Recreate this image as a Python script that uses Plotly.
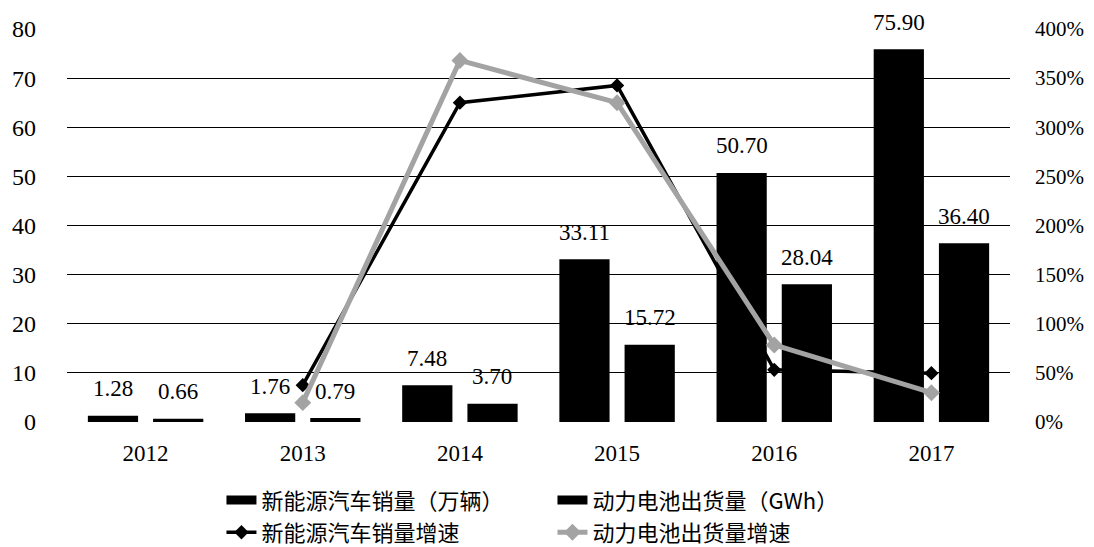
import plotly.graph_objects as go

# Years on the category axis
years = ["2012", "2013", "2014", "2015", "2016", "2017"]

# Annual values (bars, left axis)
nev_sales = [1.28, 1.76, 7.48, 33.11, 50.70, 75.90]        # 新能源汽车销量（万辆）
battery_ship = [0.66, 0.79, 3.70, 15.72, 28.04, 36.40]     # 动力电池出货量（GWh）

# Year-on-year growth (lines, right axis, as fractions)
nev_growth = [None, 0.375, 3.25, 3.426, 0.531, 0.497]      # 新能源汽车销量增速
battery_growth = [None, 0.197, 3.68, 3.25, 0.784, 0.298]   # 动力电池出货量增速

left_ticks = [0, 10, 20, 30, 40, 50, 60, 70, 80]
right_ticks = [0, 0.5, 1.0, 1.5, 2.0, 2.5, 3.0, 3.5, 4.0]

serif = "Liberation Serif"
cjk = "Noto Sans CJK SC"
black = "#000000"
grey = "#a3a3a3"

fig = go.Figure()

fig.add_trace(go.Bar(x=years, y=nev_sales, name="新能源汽车销量（万辆）",
                     marker=dict(color=black, line=dict(width=0)), showlegend=False))
fig.add_trace(go.Bar(x=years, y=battery_ship, name="动力电池出货量（GWh）",
                     marker=dict(color=black, line=dict(width=0)), showlegend=False))

# Legend swatches for the bar series (wide rectangles)
fig.add_trace(go.Scatter(x=[None], y=[None], mode="lines", name="新能源汽车销量（万辆）",
                         line=dict(color=black, width=9), legend="legend"))
fig.add_trace(go.Scatter(x=[None], y=[None], mode="lines", name="动力电池出货量（GWh）",
                         line=dict(color=black, width=9), legend="legend"))

fig.add_trace(go.Scatter(x=years, y=nev_growth, yaxis="y2", mode="lines+markers",
                         name="新能源汽车销量增速",
                         line=dict(color=black, width=3.5),
                         marker=dict(symbol="diamond", size=11, color=black),
                         legend="legend2"))
fig.add_trace(go.Scatter(x=years, y=battery_growth, yaxis="y2", mode="lines+markers",
                         name="动力电池出货量增速",
                         line=dict(color=grey, width=5),
                         marker=dict(symbol="diamond", size=13, color=grey),
                         legend="legend2"))

# Value labels above each bar
offsets = {0: -0.207, 1: 0.207}
for series_idx, values in enumerate([nev_sales, battery_ship]):
    for i, v in enumerate(values):
        fig.add_annotation(x=i + offsets[series_idx], y=v, xref="x", yref="y",
                           text=f"{v:.2f}", showarrow=False,
                           yanchor="middle", yshift=27,
                           font=dict(family=serif, size=23, color=black))

legend_common = dict(orientation="h", xanchor="left", yanchor="middle",
                     entrywidth=286, entrywidthmode="pixels", bgcolor="rgba(0,0,0,0)",
                     font=dict(family=cjk, size=22, color=black))

fig.update_layout(
    width=1094, height=547,
    margin=dict(l=67, r=84, t=29, b=125, autoexpand=False),
    paper_bgcolor="white", plot_bgcolor="white",
    barmode="group", bargap=0.17, bargroupgap=0.23,
    font=dict(family=serif, size=18, color=black),
    xaxis=dict(type="category", showgrid=False, showline=False, zeroline=False,
               ticks="", ticklabelstandoff=15,
               tickfont=dict(family=serif, size=23, color=black)),
    yaxis=dict(range=[0, 80], tickvals=left_ticks, showgrid=True,
               gridcolor=black, gridwidth=1.3, zeroline=False, showline=False,
               ticks="", ticklabelstandoff=30,
               tickfont=dict(family=serif, size=24, color=black)),
    yaxis2=dict(range=[0, 4], tickvals=right_ticks, tickformat=".0%",
                overlaying="y", side="right", showgrid=False, zeroline=False,
                showline=False, ticks="", ticklabelstandoff=24,
                tickfont=dict(family=serif, size=21, color=black)),
    legend=dict(x=0.1638, y=-0.199, **legend_common),
    legend2=dict(x=0.1638, y=-0.281, **legend_common),
)

fig.write_html("out.html")
